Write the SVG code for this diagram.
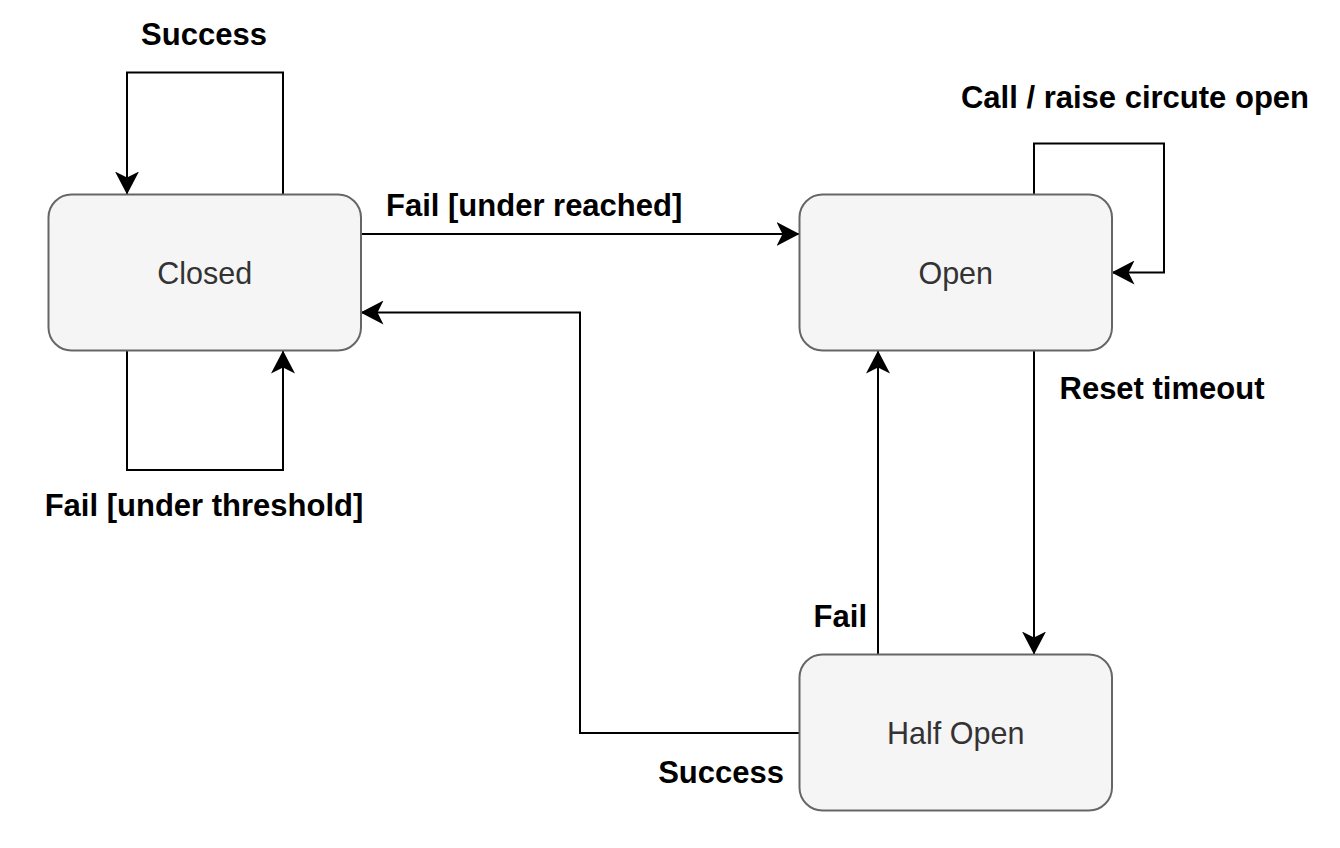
<svg xmlns="http://www.w3.org/2000/svg" width="1340" height="848" viewBox="0 0 1340 848">
  <style>
    .node rect { fill: #f5f5f5; stroke: #666666; stroke-width: 2; }
    .node text { font-family: "Liberation Sans", Arial, Helvetica, sans-serif; font-size: 30.5px; fill: #333333; text-anchor: middle; }
    .edge { fill: none; stroke: #000000; stroke-width: 2; marker-end: url(#arr); }
    .lbl { font-family: "Liberation Sans", Arial, Helvetica, sans-serif; font-size: 31px; font-weight: bold; fill: #000000; }
  </style>
  <defs>
    <marker id="arr" markerUnits="userSpaceOnUse" markerWidth="24" markerHeight="24" viewBox="0 0 24 24" refX="23" refY="12" orient="auto">
      <path d="M23,12 L0,0 L6,12 L0,24 Z" fill="#000000"/>
    </marker>
  </defs>
  <rect width="1340" height="848" fill="#ffffff"/>

  <g id="connectors">
    <path class="edge" d="M283,194.5 V72.5 H127 V194.5"/>
    <path class="edge" d="M127,350.5 V470 H283 V350.5"/>
    <path class="edge" d="M361.5,234 H799.5"/>
    <path class="edge" d="M1034,194.5 V143.5 H1164 V272.5 H1111.5"/>
    <path class="edge" d="M1034,350.5 V654.5"/>
    <path class="edge" d="M878,654.5 V350.5"/>
    <path class="edge" d="M799.5,733 H580 V312.5 H360.5"/>
  </g>

  <g id="labels">
    <text class="lbl" x="204" y="45" text-anchor="middle">Success</text>
    <text class="lbl" x="386" y="215.5">Fail [under reached]</text>
    <text class="lbl" x="1309" y="107.5" text-anchor="end">Call / raise circute open</text>
    <text class="lbl" x="1162" y="399" text-anchor="middle">Reset timeout</text>
    <text class="lbl" x="204" y="516" text-anchor="middle">Fail [under threshold]</text>
    <text class="lbl" x="867" y="626.5" text-anchor="end">Fail</text>
    <text class="lbl" x="784" y="782.5" text-anchor="end">Success</text>
  </g>

  <g id="closed" class="node">
    <rect x="48.5" y="194.5" width="312.5" height="156" rx="23" ry="23"/>
    <text x="204.75" y="283.5">Closed</text>
  </g>
  <g id="open" class="node">
    <rect x="799.5" y="194.5" width="312.5" height="156" rx="23" ry="23"/>
    <text x="955.75" y="283.5">Open</text>
  </g>
  <g id="half-open" class="node">
    <rect x="799.5" y="654.5" width="312.5" height="156" rx="23" ry="23"/>
    <text x="955.75" y="743.5">Half Open</text>
  </g>
</svg>
